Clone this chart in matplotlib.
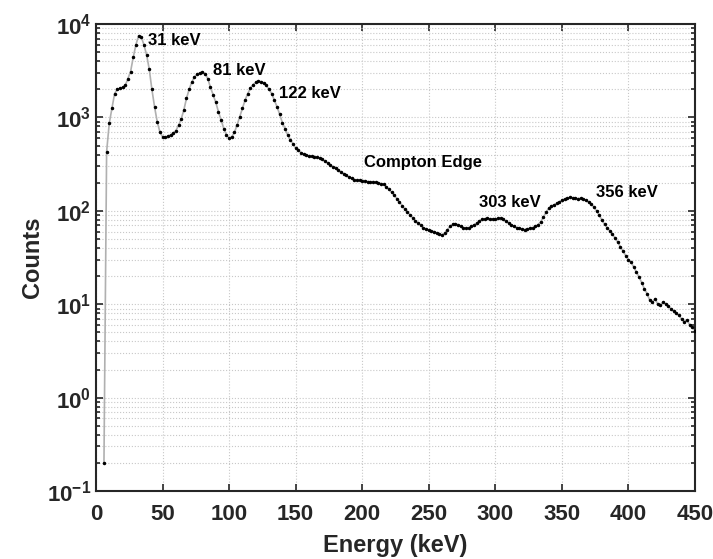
import numpy as np
import matplotlib.pyplot as plt
from matplotlib.ticker import LogLocator, NullFormatter, FixedLocator

plt.rcParams['font.family'] = ['Liberation Sans', 'DejaVu Sans']
plt.rcParams['font.weight'] = 'bold'
plt.rcParams['mathtext.fontset'] = 'custom'
plt.rcParams['mathtext.rm'] = 'Liberation Sans:bold'
plt.rcParams['mathtext.bf'] = 'Liberation Sans:bold'

# spectrum, 2 keV bins
energy = np.arange(6, 451, 2)
counts = [
    0.2, 430, 870, 1250, 1800, 2000, 2050, 2100, 2200, 2600,
    3100, 4400, 6000, 7500, 7300, 6000, 4700, 3300, 2000, 1300,
    900, 700, 620, 610, 630, 650, 680, 720, 820, 960,
    1200, 1600, 2000, 2400, 2700, 2900, 3000, 3050, 2950, 2600,
    2100, 1750, 1450, 1150, 940, 760, 650, 600, 620, 690,
    830, 1020, 1250, 1530, 1800, 2050, 2250, 2370, 2430, 2420,
    2350, 2200, 2000, 1800, 1530, 1300, 1080, 880, 760, 650,
    580, 520, 470, 445, 420, 405, 395, 388, 382, 380,
    378, 368, 355, 340, 325, 310, 297, 285, 272, 260,
    250, 240, 230, 222, 216, 214, 212, 211, 210, 206,
    204, 205, 202, 200, 196, 192, 182, 170, 158, 148,
    135, 124, 114, 104, 98, 90, 84, 78, 74, 70,
    66, 64, 62, 61, 60, 58, 57, 55, 58, 63,
    68, 72, 73, 71, 68, 66, 65, 66, 68, 71,
    74, 78, 81, 82, 83, 82, 82, 81, 83, 84,
    81, 77, 74, 71, 68, 66, 65, 64, 63, 64,
    65, 66, 68, 71, 76, 85, 96, 106, 112, 116,
    120, 124, 130, 134, 137, 139, 138, 136, 135, 136,
    134, 130, 124, 118, 110, 100, 90, 80, 72, 66,
    61, 56, 51, 46, 41, 37, 33, 30, 28, 25,
    22, 19.5, 17, 14.5, 13, 11, 10.5, 11.5, 10, 9.8,
    10.6, 10, 9.5, 8.9, 8.4, 8, 7.6, 6.9, 6.5, 6.8,
    6, 5.7, 5.2,
]

peak_labels = ['31 keV', '81 keV', '122 keV', 'Compton Edge', '303 keV', '356 keV']
label_x = [39, 88, 137.5, 201, 287.5, 375.5]
label_y = [6700, 3200, 1820, 330, 123, 157]

fig = plt.figure(figsize=(7.13, 5.59), dpi=100)
ax = fig.add_axes([0.1346, 0.1216, 0.8402, 0.8354])

ax.plot(energy, counts, color='#b0b0b0', linewidth=1.2, zorder=2)
ax.plot(energy, counts, linestyle='none', marker='o', markersize=1.5,
        color='black', zorder=3)

for lab, lx, ly in zip(peak_labels, label_x, label_y):
    ax.text(lx, ly, lab, fontsize=12, fontweight='bold', ha='left', va='center')

ax.set_yscale('log')
ax.set_xlim(0, 450)
ax.set_ylim(0.1, 1e4)
ax.xaxis.set_major_locator(FixedLocator(np.arange(0, 451, 50)))
ax.yaxis.set_minor_locator(LogLocator(base=10, subs=np.arange(2, 10), numticks=20))
ax.yaxis.set_minor_formatter(NullFormatter())
ax.set_yticks([1e-1, 1, 1e1, 1e2, 1e3, 1e4])
ax.set_yticklabels([r'$10^{%d}$' % p for p in range(-1, 5)])

ax.grid(True, which='major', linestyle=':', linewidth=0.8, color='#c8c8c8')
ax.grid(True, which='minor', axis='y', linestyle=':', linewidth=0.8, color='#c8c8c8')
ax.tick_params(which='both', direction='in', top=True, right=True,
               labelsize=16, colors='#262626', width=1.2)
ax.tick_params(axis='x', which='major', pad=9)
ax.tick_params(which='major', length=5)
ax.tick_params(which='minor', length=3)
for s in ax.spines.values():
    s.set_color('#262626')
    s.set_linewidth(1.5)

ax.set_xlabel('Energy (keV)', fontsize=17, fontweight='bold', color='#262626', labelpad=7)
ax.set_ylabel('Counts', fontsize=17, fontweight='bold', color='#262626', labelpad=2)

fig.savefig('out.png', dpi=100)
